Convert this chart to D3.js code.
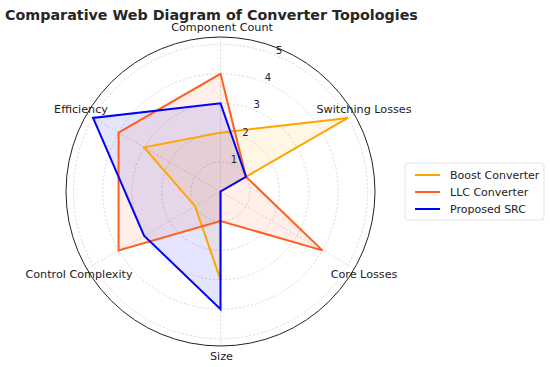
<!DOCTYPE html>
<html><head><meta charset="utf-8">
<script src="https://cdn.jsdelivr.net/npm/d3@7"></script>
<style>body{margin:0;background:#fff;} text{font-family:"DejaVu Sans",sans-serif;}</style>
</head><body><svg id="c" width="550" height="367"></svg>
<script>
const categories = ["Component Count","Switching Losses","Core Losses","Size","Control Complexity","Efficiency"];
const seriesNames = ["Boost Converter","LLC Converter","Proposed SRC"];
const boostValues = [2,5,0,3,1,3];
const llcValues = [4,1,4,1,4,4];
const srcValues = [3,1,0,4,3,5];
const radialTicks = [1,2,3,4,5];
const colors = ["#FFA500","#FF5F1F","#0000FF"];

const svg = d3.select("#c");
const cx = 220.5, cy = 191.5, R = 154.5;
const r = d3.scaleLinear().domain([0,5.25]).range([0,R]);
const ang = d3.scaleLinear().domain([0,categories.length]).range([0,2*Math.PI]);
const g = svg.append("g").attr("transform",`translate(${cx},${cy})`);

g.selectAll("circle.grid").data(radialTicks).join("circle")
 .attr("r",d=>r(d)).attr("fill","none").attr("stroke","#cfcfcf")
 .attr("stroke-width",0.8).attr("stroke-dasharray","2,2");
g.selectAll("line.spoke").data(categories).join("line")
 .attr("x1",0).attr("y1",0)
 .attr("x2",(d,i)=>R*Math.sin(ang(i))).attr("y2",(d,i)=>-R*Math.cos(ang(i)))
 .attr("stroke","#cfcfcf").attr("stroke-width",0.8).attr("stroke-dasharray","2,2");

const line = d3.lineRadial().angle((d,i)=>ang(i)).radius(d=>r(d)).curve(d3.curveLinearClosed);
const all = [boostValues,llcValues,srcValues];
all.forEach((vals,k)=>{
  g.append("path").attr("d",line(vals)).attr("fill",colors[k]).attr("fill-opacity",0.1).attr("stroke","none");
});
all.forEach((vals,k)=>{
  g.append("path").attr("d",line(vals)).attr("fill","none").attr("stroke",colors[k]).attr("stroke-width",2);
});

g.append("circle").attr("r",R).attr("fill","none").attr("stroke","#222").attr("stroke-width",1);

const ta = 22.5*Math.PI/180;
g.selectAll("text.rt").data(radialTicks).join("text")
 .attr("x",d=>(r(d)+6)*Math.sin(ta)).attr("y",d=>-(r(d)+6)*Math.cos(ta)+4)
 .attr("text-anchor","middle").attr("font-size",10).attr("fill","#222").text(d=>d);

const labPos = [
 {x:1.5,y:-160.5},
 {x:143.5,y:-78.5},
 {x:143.5,y:86.5},
 {x:1,y:168.5},
 {x:-141.5,y:86.5},
 {x:-139.5,y:-78.5}
];
g.selectAll("text.cat").data(categories).join("text")
 .attr("x",(d,i)=>labPos[i].x).attr("y",(d,i)=>labPos[i].y)
 .attr("text-anchor","middle").attr("font-size",11.2).attr("fill","#222")
 .text(d=>d);

svg.append("text").attr("x",5).attr("y",20).attr("font-size",14.3).attr("font-weight","bold").attr("fill","#262626")
 .text("Comparative Web Diagram of Converter Topologies");

const lg = svg.append("g").attr("transform","translate(405,163)");
lg.append("rect").attr("width",139).attr("height",57).attr("rx",3).attr("fill","#fff").attr("stroke","#ddd").attr("stroke-width",0.8);
seriesNames.forEach((n,k)=>{
  const y = 12+k*17;
  lg.append("line").attr("x1",10).attr("x2",35).attr("y1",y).attr("y2",y).attr("stroke",colors[k]).attr("stroke-width",2);
  lg.append("text").attr("x",45).attr("y",y+4).attr("font-size",11).attr("fill","#222").text(n);
});
</script></body></html>
